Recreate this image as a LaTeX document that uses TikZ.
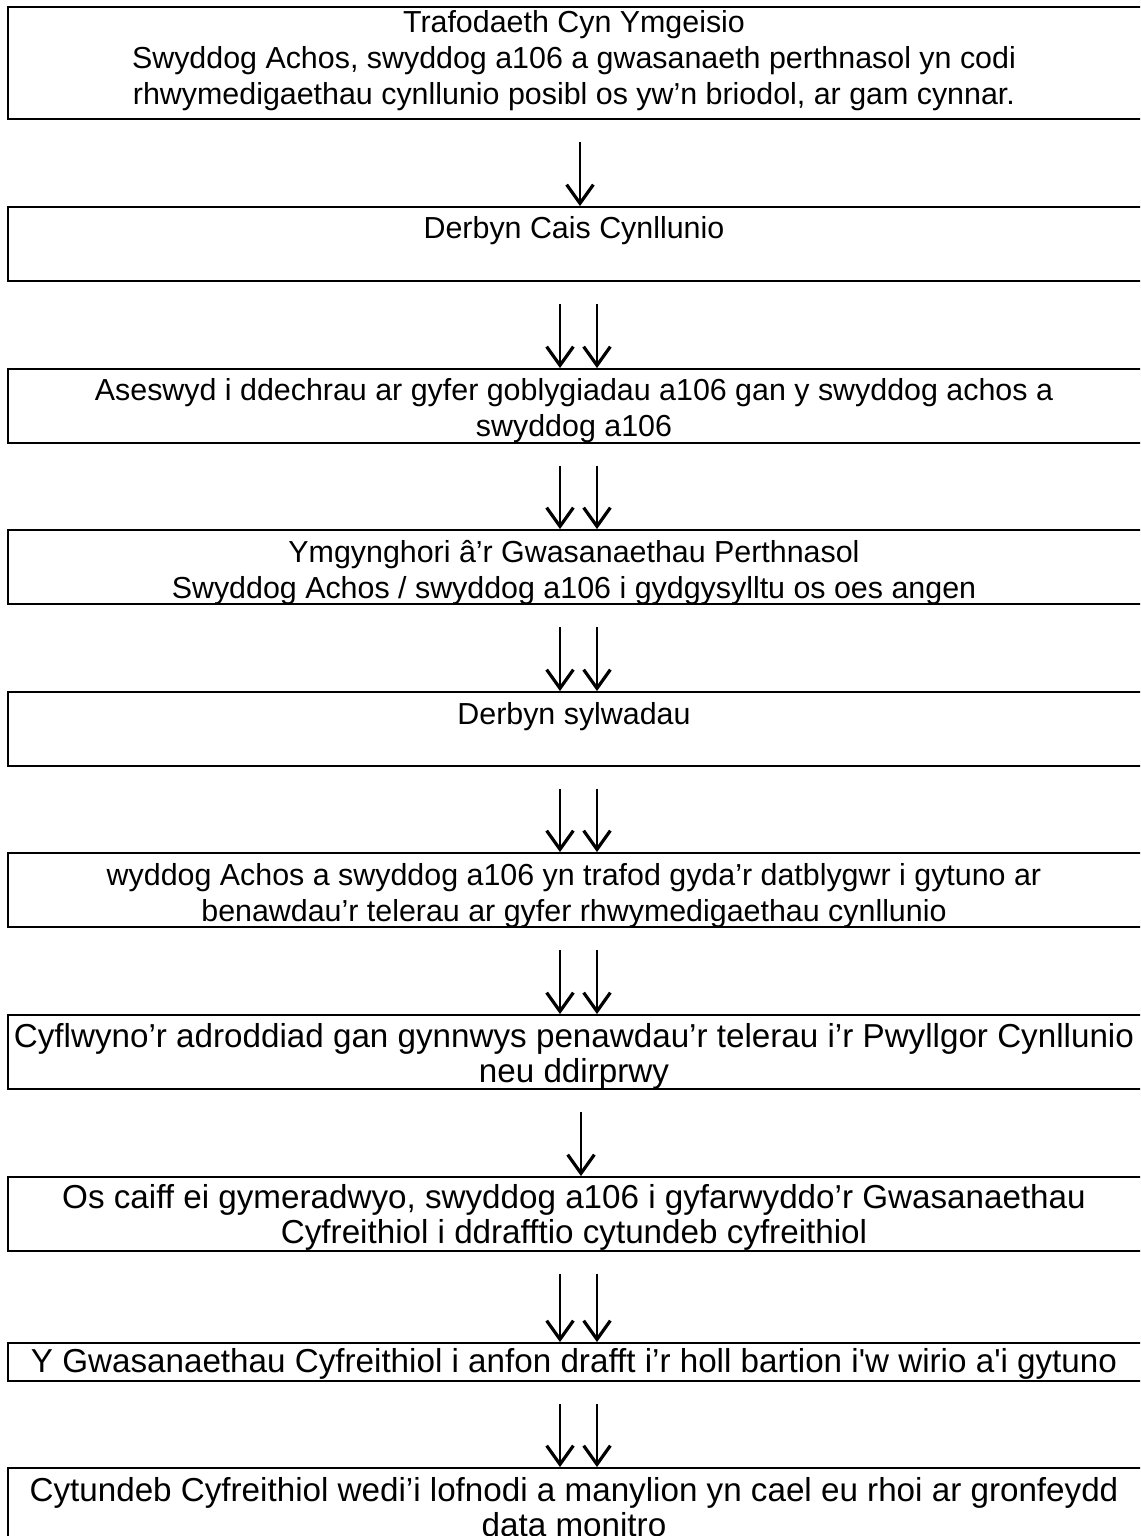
\documentclass[tikz,border=0pt]{standalone}
\usepackage{fontspec}
\setmainfont{Liberation Sans}[Ligatures=TeXOff]
\usetikzlibrary{arrows.meta,calc,fit}
\begin{document}
\begin{tikzpicture}[x=0.75pt,y=-0.75pt,
 box/.style={draw,line width=1.4pt,inner sep=0pt},
 txt/.style={inner sep=0pt,align=center,anchor=north,font=\fontsize{22.8}{26.8}\selectfont},
 txtb/.style={inner sep=0pt,align=center,anchor=north,font=\fontsize{24.9}{26.4}\selectfont},
 arr/.style={line width=1.7pt,-{Straight Barb[length=14pt,width=20pt,line width=2.4pt]}}
]
\useasboundingbox (0,0) rectangle (1140,1536);
\clip (0,0) rectangle (1140,1536);
\node[box,fit={(8,7) (1142,119)}] (b1) {};
\node[box,fit={(8,207) (1142,281)}] (b2) {};
\node[box,fit={(8,369) (1142,443)}] (b3) {};
\node[box,fit={(8,530) (1142,604)}] (b4) {};
\node[box,fit={(8,692) (1142,766)}] (b5) {};
\node[box,fit={(8,853) (1142,927)}] (b6) {};
\node[box,fit={(8,1015) (1142,1089)}] (b7) {};
\node[box,fit={(8,1177) (1142,1251)}] (b8) {};
\node[box,fit={(8,1343) (1142,1381)}] (b9) {};
\node[box,fit={(8,1468) (1142,1545)}] (b10) {};

\node[txt] (t1) at (574,10.5) {Trafodaeth Cyn Ymgeisio\\Swyddog Achos, swyddog a106 a gwasanaeth perthnasol yn codi\\rhwymedigaethau cynllunio posibl os yw’n briodol, ar gam cynnar.};
\node[txt] (t2) at (574,216) {Derbyn Cais Cynllunio};
\node[txt] (t3) at (574,378) {Aseswyd i ddechrau ar gyfer goblygiadau a106 gan y swyddog achos a\\swyddog a106};
\node[txt] (t4) at (574,540) {Ymgynghori â’r Gwasanaethau Perthnasol\\Swyddog Achos / swyddog a106 i gydgysylltu os oes angen};
\node[txt] (t5) at (574,702) {Derbyn sylwadau};
\node[txt] (t6) at (574,863) {wyddog Achos a swyddog a106 yn trafod gyda’r datblygwr i gytuno ar\\benawdau’r telerau ar gyfer rhwymedigaethau cynllunio};
\node[txtb] (t7) at (574,1023) {Cyflwyno’r adroddiad gan gynnwys penawdau’r telerau i’r Pwyllgor Cynllunio\\neu ddirprwy};
\node[txtb] (t8) at (574,1184) {Os caiff ei gymeradwyo, swyddog a106 i gyfarwyddo’r Gwasanaethau\\Cyfreithiol i ddrafftio cytundeb cyfreithiol};
\node[txtb] (t9) at (574,1348) {Y Gwasanaethau Cyfreithiol i anfon drafft i’r holl bartion i'w wirio a'i gytuno};
\node[txtb] (t10) at (574,1477) {Cytundeb Cyfreithiol wedi’i lofnodi a manylion yn cael eu rhoi ar gronfeydd\\data monitro};

\draw[arr] ($(b1.south)+(5,22)$) -- ($(b2.north)+(5,0)$);
\foreach \a/\b in {b2/b3,b3/b4,b4/b5,b5/b6,b6/b7,b8/b9,b9/b10}{
  \draw[arr] ($(\a.south)+(-15,22)$) -- ($(\b.north)+(-15,0)$);
  \draw[arr] ($(\a.south)+(22,22)$) -- ($(\b.north)+(22,0)$);
}
\draw[arr] ($(b7.south)+(6,22)$) -- ($(b8.north)+(6,0)$);
\end{tikzpicture}
\end{document}
